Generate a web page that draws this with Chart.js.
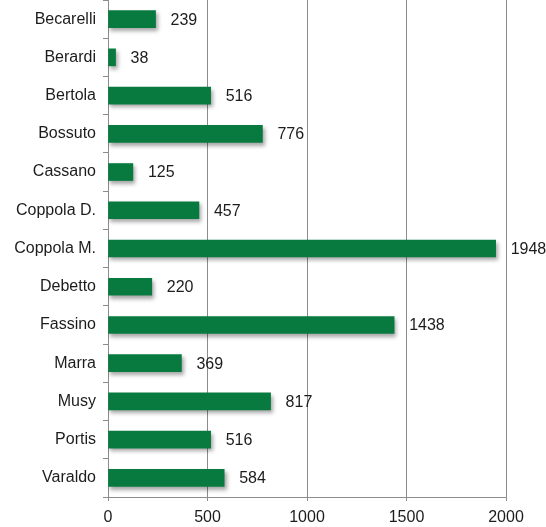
<!DOCTYPE html>
<html>
<head>
<meta charset="utf-8">
<title>Voti per candidato</title>
<script src="https://cdn.jsdelivr.net/npm/chart.js@4.4.1/dist/chart.umd.min.js"></script>
<style>
    html, body { margin: 0; padding: 0; background: #fff; }
    #wrap { width: 546px; height: 527px; position: relative; }
</style>
</head>
<body>
<div id="wrap"><canvas id="votiChart"></canvas></div>
<script>
// dati
const candidati = ['Becarelli', 'Berardi', 'Bertola', 'Bossuto', 'Cassano', 'Coppola D.',
    'Coppola M.', 'Debetto', 'Fassino', 'Marra', 'Musy', 'Portis', 'Varaldo'];
const voti = [239, 38, 516, 776, 125, 457, 1948, 220, 1438, 369, 817, 516, 584];
const xTicks = [0, 500, 1000, 1500, 2000];

const VERDE = '#087a40';
const GRIGIO = '#8c8c8c';
const FONT = '"Liberation Sans", Arial, sans-serif';

// ombra sotto le barre
const barShadow = {
    id: 'barShadow',
    beforeDatasetsDraw(chart) {
        const ctx = chart.ctx;
        ctx.save();
        ctx.shadowColor = 'rgba(0, 0, 0, 0.35)';
        ctx.shadowOffsetX = 2;
        ctx.shadowOffsetY = 3;
        ctx.shadowBlur = 4;
    },
    afterDatasetsDraw(chart) {
        chart.ctx.restore();
    }
};

// etichette con il valore a destra della barra
const valueLabels = {
    id: 'valueLabels',
    afterDraw(chart) {
        const ctx = chart.ctx;
        const meta = chart.getDatasetMeta(0);
        ctx.save();
        ctx.font = '16px ' + FONT;
        ctx.fillStyle = '#1c1c1c';
        ctx.textAlign = 'left';
        ctx.textBaseline = 'middle';
        meta.data.forEach((bar, i) => {
            ctx.fillText(String(voti[i]), bar.x + 15, bar.y + 1);
        });
        ctx.restore();
    }
};

new Chart(document.getElementById('votiChart'), {
    type: 'bar',
    data: {
        labels: candidati,
        datasets: [{
            data: voti,
            backgroundColor: VERDE,
            borderWidth: 0,
            barThickness: 17
        }]
    },
    options: {
        indexAxis: 'y',
        responsive: true,
        maintainAspectRatio: false,
        animation: false,
        layout: {
            padding: { top: 0, right: 40, bottom: 0, left: 0 }
        },
        plugins: {
            legend: { display: false },
            tooltip: { enabled: false }
        },
        scales: {
            x: {
                min: 0,
                max: 2000,
                afterBuildTicks: (scale) => {
                    scale.ticks = xTicks.map(v => ({ value: v }));
                },
                afterFit: (scale) => {
                    scale.height = 30;
                },
                grid: {
                    color: GRIGIO,
                    lineWidth: 1,
                    tickLength: 4,
                    drawTicks: true
                },
                border: { color: GRIGIO },
                ticks: {
                    color: '#1c1c1c',
                    padding: 7,
                    font: { family: FONT, size: 16 },
                    callback: (v) => String(v)
                }
            },
            y: {
                afterFit: (scale) => {
                    scale.width = 108;
                    scale.paddingTop = 0;
                    scale.paddingBottom = 0;
                },
                grid: {
                    drawOnChartArea: false,
                    color: GRIGIO,
                    tickLength: 5
                },
                border: { color: GRIGIO },
                ticks: {
                    color: '#1c1c1c',
                    padding: 7,
                    font: { family: FONT, size: 16 }
                }
            }
        }
    },
    plugins: [barShadow, valueLabels]
});
</script>
</body>
</html>
